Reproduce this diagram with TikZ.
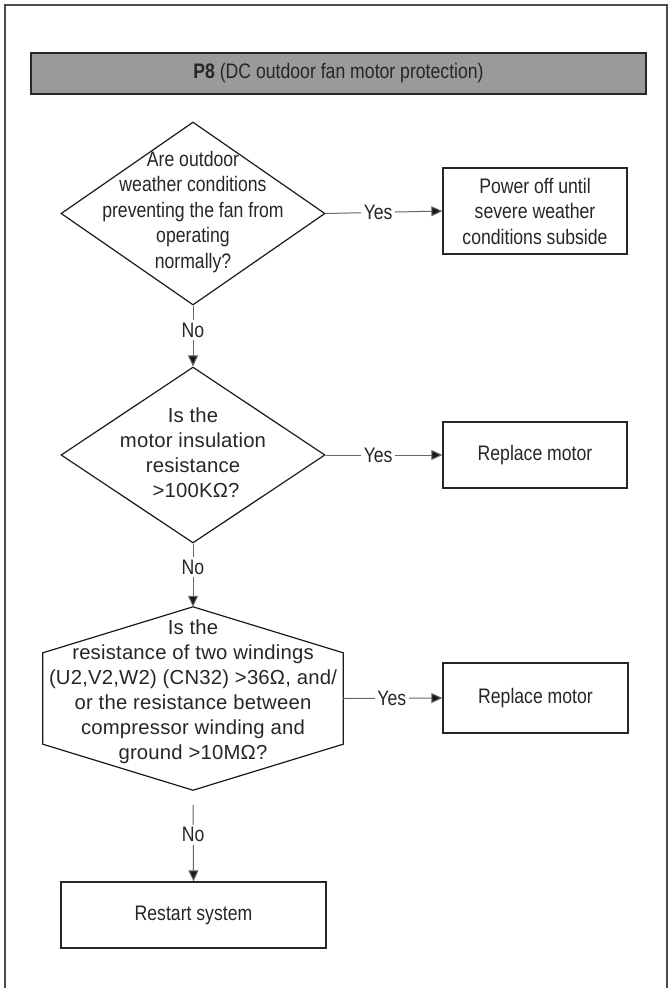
\documentclass[tikz,border=0pt]{standalone}
\usepackage{fontspec}
\setmainfont{Liberation Sans}[FakeStretch=0.84]
\newfontfamily\widefont{Liberation Sans}[LetterSpace=1]
\usetikzlibrary{arrows.meta,shapes.geometric,calc}
\definecolor{txtc}{HTML}{262626}
\definecolor{barc}{HTML}{9A9A9A}
\begin{document}
\begin{tikzpicture}[x=1pt,y=-1pt,
  every node/.style={text=txtc},
  condtext/.style={font=\fontsize{21}{25.5}\selectfont, align=center, inner sep=0},
  widetext/.style={font=\widefont\fontsize{20.3}{25}\selectfont, align=center, inner sep=0},
  framec/.style={draw=black!70, line width=1.2pt},
  titlebar/.style={draw=black!85, fill=barc, line width=1.2pt, minimum width=615, minimum height=41, inner sep=0, font=\fontsize{21}{24}\selectfont},
  dia/.style={draw=black!90, shape=diamond, line width=1.2pt, inner sep=0},
  stepbox/.style={draw=black!85, line width=1.3pt, inner sep=0, align=center, font=\fontsize{21}{25.5}\selectfont},
  conn/.style={draw=black!60, line width=1pt, -{Triangle[length=11pt,width=10pt,fill=black!90]}},
  lbl/.style={fill=white, inner sep=2.5pt, font=\fontsize{21}{24}\selectfont}
]
\useasboundingbox (0,0) rectangle (671,988);
% outer frame (open at bottom)
\draw[framec] (5,988) -- (5,5) -- (667,5) -- (667,988);
% title
\node[titlebar] (title) at (338.5,73.5) {\textbf{P8} (DC outdoor fan motor protection)};
% decision 1
\node[dia, minimum width=264, minimum height=183] (d1) at (193,213.5) {};
\node[condtext] (t1) at (193,212) {Are outdoor\\weather conditions\\preventing the fan from\\operating\\normally?};
\node[stepbox, minimum width=184, minimum height=86] (b1) at (535,211) {Power off until\\severe weather\\conditions subside};
% decision 2
\node[dia, minimum width=264, minimum height=176] (d2) at (193,455) {};
\node[widetext] (t2) at (193,453) {Is the\\motor insulation\\resistance\\\hspace*{0.3em}{>}100K\symbol{"03A9}?};
\node[stepbox, minimum width=184, minimum height=66] (b2) at (535,455) {Replace motor};
% decision 3 (hexagon)
\node[minimum width=300, minimum height=183, inner sep=0] (hx) at (193,698.5) {};
\draw[draw=black!90, line width=1.2pt] (hx.north) -- ($(hx.north east)+(0,46)$) -- ($(hx.south east)+(0,-46)$) -- (hx.south) -- ($(hx.south west)+(0,-46)$) -- ($(hx.north west)+(0,46)$) -- cycle;
\node[widetext] (t3) at (193,691.5) {Is the\\resistance of two windings\\(U2,V2,W2) (CN32) {>}36\symbol{"03A9}, and/\\or the resistance between\\compressor winding and\\ground {>}10M\symbol{"03A9}?};
\node[stepbox, minimum width=185, minimum height=70] (b3) at (535.5,698) {Replace motor};
% end
\node[stepbox, minimum width=265, minimum height=66] (b4) at (193.5,915) {Restart system};
% connectors
\draw[conn] (d1.east) -- node[lbl, pos=0.45] {Yes} (b1.west);
\draw[conn] (d1.south) -- node[lbl, pos=0.4] {No} (d2.north);
\draw[conn] (d2.east) -- node[lbl, pos=0.45] {Yes} (b2.west);
\draw[conn] (d2.south) -- node[lbl, pos=0.375] {No} (hx.north);
\draw[conn] (hx.east) -- node[lbl, pos=0.49] {Yes} (b3.west);
\draw[conn, shorten <=15pt] (hx.south) -- node[lbl, pos=0.49] {No} (b4.north);
\end{tikzpicture}
\end{document}
